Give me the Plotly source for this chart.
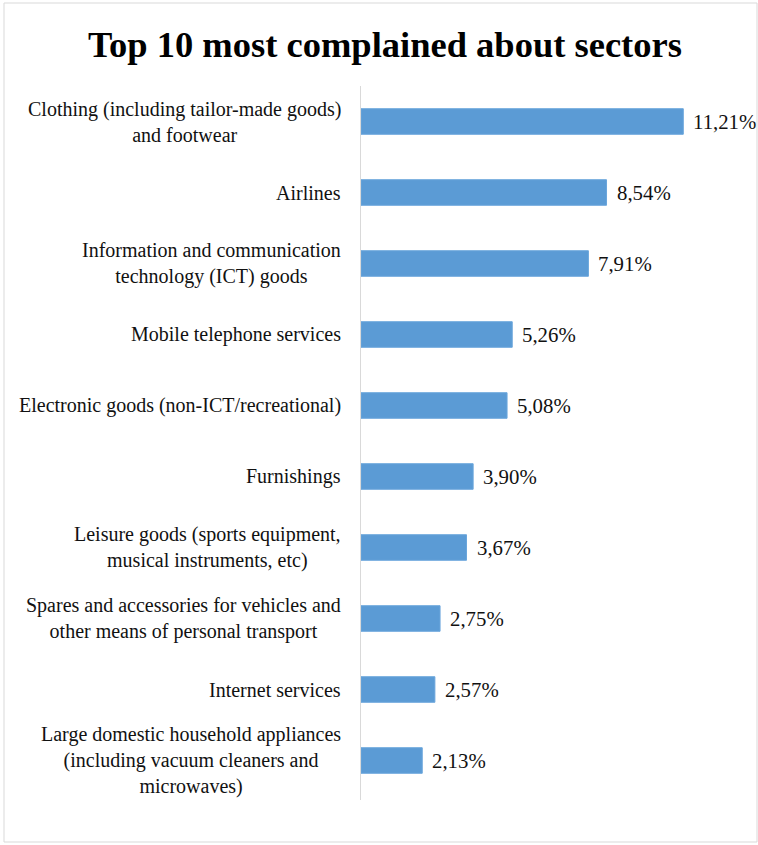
import plotly.graph_objects as go

categories = [
    "Clothing (including tailor-made goods)<br>and footwear",
    "Airlines",
    "Information and communication<br>technology (ICT) goods",
    "Mobile telephone services",
    "Electronic goods (non-ICT/recreational)",
    "Furnishings",
    "Leisure goods (sports equipment,<br>musical instruments, etc)",
    "Spares and accessories for vehicles and<br>other means of personal transport",
    "Internet services",
    "Large domestic household appliances<br>(including vacuum cleaners and<br>microwaves)",
]
values = [11.21, 8.54, 7.91, 5.26, 5.08, 3.90, 3.67, 2.75, 2.57, 2.13]
value_labels = [f"{v:.2f}".replace(".", ",") + "%" for v in values]

FONT = "Liberation Serif"
W, H = 758, 845
L, R, T, B = 361, 13, 86, 45
pw, ph = W - L - R, H - T - B

fig = go.Figure(go.Bar(
    x=values, y=categories, orientation="h",
    marker=dict(color="#5B9BD5", line=dict(color="#6aa6dc", width=1)),
    width=0.36, hoverinfo="skip",
))

ann = []
for c, v, t in zip(categories, values, value_labels):
    ann.append(dict(x=0, y=c, xref="x", yref="y", text=c, showarrow=False,
                    xanchor="right", yanchor="middle", align="center", xshift=-18,
                    font=dict(family=FONT, size=20, color="#111")))
    ann.append(dict(x=v, y=c, xref="x", yref="y", text=t, showarrow=False,
                    xanchor="left", yanchor="middle", xshift=8,
                    font=dict(family=FONT, size=20.8, color="#111")))

def px_x(p):
    return (p - L) / pw

def px_y(p):
    return (H - B - p) / ph

fig.update_layout(
    width=W, height=H,
    margin=dict(l=L, r=R, t=T, b=B),
    paper_bgcolor="white", plot_bgcolor="white",
    title=dict(text="<b>Top 10 most complained about sectors</b>",
               x=385 / W, xref="container", xanchor="center",
               y=1 - 44 / H, yref="container", yanchor="middle",
               font=dict(family=FONT, size=36.5, color="black")),
    xaxis=dict(range=[0, pw / 28.75], visible=False, fixedrange=True),
    yaxis=dict(autorange="reversed", showticklabels=False, ticks="",
               showgrid=False, zeroline=False, showline=True,
               linecolor="#d9d9d9", linewidth=1),
    showlegend=False,
    annotations=ann,
    shapes=[dict(type="rect", xref="paper", yref="paper",
                 x0=px_x(4), x1=px_x(757), y0=px_y(842), y1=px_y(3),
                 line=dict(color="#d9d9d9", width=1), layer="below")],
)

fig.write_html("out.html")
